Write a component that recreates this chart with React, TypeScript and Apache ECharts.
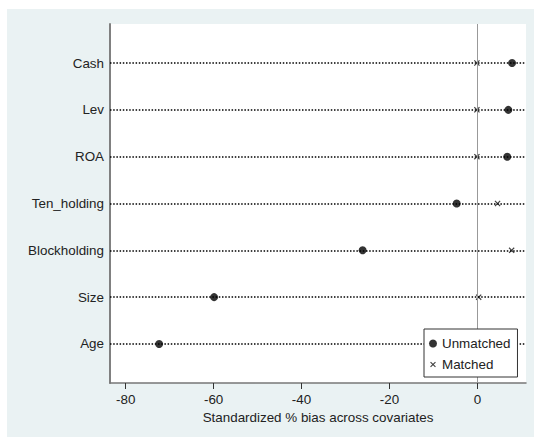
import React, { useEffect, useRef } from "react";
import * as echarts from "echarts";

const categories = ["Age", "Size", "Blockholding", "Ten_holding", "ROA", "Lev", "Cash"];
const unmatched = [-72.4, -59.9, -26.1, -4.7, 6.8, 7.05, 7.9];
const matched = [0.4, 0.3, 7.8, 4.6, -0.1, -0.1, -0.1];
const xTicks = [-80, -60, -40, -20, 0];

const X_ICON =
  "path://M1.4,0L5,3.6L8.6,0L10,1.4L6.4,5L10,8.6L8.6,10L5,6.4L1.4,10L0,8.6L3.6,5L0,1.4Z";
const X_ICON_LEGEND =
  "path://M-2,-2M12,12M1.4,0L5,3.6L8.6,0L10,1.4L6.4,5L10,8.6L8.6,10L5,6.4L1.4,10L0,8.6L3.6,5L0,1.4Z";

export default function App() {
  const ref = useRef<HTMLDivElement>(null);
  useEffect(() => {
    if (!ref.current) return;
    const chart = echarts.init(ref.current, undefined, { renderer: "svg" });
    const font = "Liberation Sans, Arial, sans-serif";
    const fs = 13.4;
    const rowPos = categories.map((_, i) => i + 1);
    chart.setOption({
      animation: false,
      backgroundColor: "#eaf2f3",
      textStyle: { fontFamily: font },
      grid: {
        left: 103,
        right: 8,
        top: 15,
        bottom: 54,
        show: true,
        backgroundColor: "#ffffff",
        borderWidth: 0,
      },
      xAxis: {
        type: "value",
        min: -83.58,
        max: 11.07,
        name: "Standardized % bias across covariates",
        nameLocation: "middle",
        nameGap: 27,
        nameTextStyle: { color: "#222", fontSize: fs, fontFamily: font },
        axisLine: { show: true, onZero: false, lineStyle: { color: "#777", width: 1.5 } },
        axisTick: {
          show: true,
          length: 6,
          customValues: xTicks,
          lineStyle: { color: "#333", width: 1 },
        },
        axisLabel: {
          customValues: xTicks,
          color: "#222",
          fontSize: fs,
          margin: 10,
          fontFamily: font,
        },
        splitLine: { show: false },
      },
      yAxis: {
        type: "value",
        min: 1 / 6,
        max: 7 + 5 / 6,
        axisLine: { show: true, onZero: false, lineStyle: { color: "#808080", width: 2 } },
        axisTick: { show: false },
        axisLabel: {
          customValues: rowPos,
          formatter: (v: number) => categories[Math.round(v) - 1] ?? "",
          color: "#222",
          fontSize: fs,
          margin: 6,
          fontFamily: font,
        },
        splitLine: { show: false },
      },
      legend: {
        orient: "vertical",
        left: 417,
        top: 320,
        padding: [8, 7, 6, 5],
        itemGap: 8,
        itemWidth: 8,
        itemHeight: 8,
        backgroundColor: "#ffffff",
        borderColor: "#333",
        borderWidth: 1,
        borderRadius: 0,
        textStyle: { color: "#222", fontSize: fs, fontFamily: font },
        data: [
          { name: "Unmatched", icon: "circle" },
          { name: "Matched", icon: X_ICON_LEGEND },
        ],
        selectedMode: false,
        z: 10,
      },
      series: [
        {
          name: "lines",
          type: "scatter",
          data: [],
          z: 1,
          silent: true,
          markLine: {
            silent: true,
            symbol: "none",
            label: { show: false },
            animation: false,
            data: [
              ...rowPos.map((p) => ({
                yAxis: p,
                lineStyle: { color: "#000", width: 1.5, type: [1.5, 1.7] },
              })),
              { xAxis: 0, lineStyle: { color: "#999", width: 1, type: "solid" } },
            ],
          },
        },
        {
          name: "Unmatched",
          type: "scatter",
          symbol: "circle",
          symbolSize: 8,
          itemStyle: { color: "#000" },
          data: unmatched.map((v, i) => [v, rowPos[i]]),
          z: 3,
        },
        {
          name: "Matched",
          type: "scatter",
          symbol: X_ICON,
          symbolSize: 6,
          itemStyle: { color: "#111" },
          data: matched.map((v, i) => [v, rowPos[i]]),
          z: 3,
        },
      ],
    });
    return () => chart.dispose();
  }, []);
  return (
    <div
      ref={ref}
      style={{ position: "absolute", left: 7, top: 9, width: 527, height: 428 }}
    />
  );
}
